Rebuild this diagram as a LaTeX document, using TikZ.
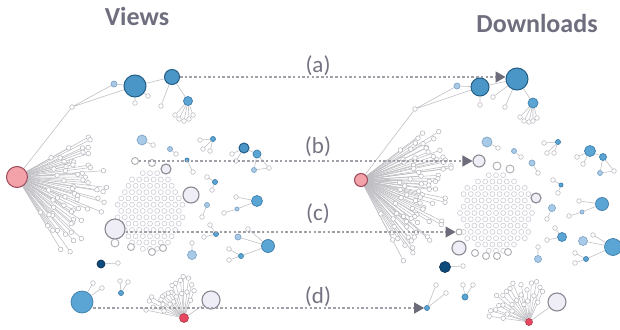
\documentclass[tikz,border=0pt]{standalone}
\usepackage{fontspec}
\setmainfont{Carlito}
\usetikzlibrary{arrows.meta,calc}
\pgfdeclarelayer{background}
\pgfdeclarelayer{edges}
\pgfsetlayers{background,edges,main}

\definecolor{titlegray}{HTML}{6E6E7E}
\definecolor{labelgray}{HTML}{737382}
\definecolor{edgegray}{HTML}{BEBEC3}
\definecolor{dotline}{HTML}{B2B2BA}
\definecolor{ringline}{HTML}{CFCFD9}
\definecolor{bigring}{HTML}{8A8A93}
\definecolor{palefill}{HTML}{EFEEF7}
\definecolor{hubpink}{HTML}{F4A2AA}
\definecolor{hubpinkline}{HTML}{9A4858}
\definecolor{hubred}{HTML}{E5485F}
\definecolor{hubredline}{HTML}{B3364A}
\definecolor{bluefill}{HTML}{4A97C7}
\definecolor{blueline}{HTML}{245E86}
\definecolor{midblue}{HTML}{5BA5D5}
\definecolor{midblueline}{HTML}{3D7EAA}
\definecolor{lightblue}{HTML}{A9CAE7}
\definecolor{lightblueline}{HTML}{7FA6C8}
\definecolor{navyfill}{HTML}{0E4A7A}
\definecolor{navyline}{HTML}{0A3358}
\definecolor{dashgray}{HTML}{A0A0A8}
\definecolor{tipgray}{HTML}{6C6C7A}

\tikzset{
  dot/.style={circle,inner sep=0pt,minimum size=4.6pt,draw=dotline,fill=white,line width=0.5pt},
  ring/.style={circle,inner sep=0pt,minimum size=5pt,draw=ringline,fill=white,line width=0.65pt},
  grayring/.style={circle,inner sep=0pt,minimum size=#1,draw=bigring!70,fill=white,line width=0.9pt},
  pale/.style={circle,inner sep=0pt,minimum size=#1,draw=bigring,fill=palefill,line width=1.1pt},
  bluenode/.style={circle,inner sep=0pt,minimum size=#1,draw=blueline,fill=bluefill,line width=1pt},
  midnode/.style={circle,inner sep=0pt,minimum size=#1,draw=midblueline,fill=midblue,line width=0.7pt},
  lightnode/.style={circle,inner sep=0pt,minimum size=#1,draw=lightblueline,fill=lightblue,line width=0.7pt},
  navynode/.style={circle,inner sep=0pt,minimum size=#1,draw=navyline,fill=navyfill,line width=0.7pt},
  pinkhub/.style={circle,inner sep=0pt,minimum size=#1,draw=hubpinkline,fill=hubpink,line width=1pt},
  redhub/.style={circle,inner sep=0pt,minimum size=#1,draw=hubredline,fill=hubred,line width=0.6pt},
  link/.style={draw=edgegray,line width=0.55pt},
  dashlink/.style={draw=dashgray,line width=1.3pt,dash pattern=on 2.5pt off 2.2pt,
    -{Triangle[length=10pt,width=11pt,color=tipgray]}},
  title/.style={inner sep=0pt,text=titlegray,font=\fontsize{26}{28}\selectfont\bfseries},
  caselabel/.style={inner sep=0pt,text=labelgray,font=\fontsize{23}{25}\selectfont}
}

\begin{document}
\begin{tikzpicture}[x=1pt,y=-1pt]
\useasboundingbox (0,0) rectangle (620,329);
\begin{pgfonlayer}{background}
  \fill[white] (0,0) rectangle (620,329);
\end{pgfonlayer}

% ---------- titles and case labels ----------
\node[title] (views) at (137,16) {Views};
\node[title] (downloads) at (537,23) {Downloads};
\node[caselabel] (la) at (318,66) {(a)};
\node[caselabel] (lbl) at (318,147) {(b)};
\node[caselabel] (lc) at (318,214) {(c)};
\node[caselabel] (ld) at (318,297) {(d)};

% =================== VIEWS ===================
\node[pinkhub=21pt] (R1) at (17,177) {};
% top component
\node[dot] (a1) at (72,107) {};
\node[lightnode=6pt] (a2) at (114,84) {};
\node[bluenode=22pt] (B1) at (135,86) {};
\node[dot] (a3) at (135,103) {};
\node[dot] (a4) at (148,96) {};
\node[bluenode=15pt] (B2) at (172,77) {};
\node[dot] (a5) at (161,106) {};
\node[midnode=9pt] (B3) at (188,101) {};
\node[dot] (a6) at (175,115) {};
\node[dot] (a7) at (179,119) {};
\node[dot] (a8) at (184,121) {};
\node[dot] (a9) at (189,119) {};
\node[dot] (a10) at (193,115) {};

% fan of the pink hub
\pgfmathsetseed{41}
\foreach \k in {0,...,47} {
  \pgfmathsetmacro\ang{30-\k*90/47+1.2*rand}
  \pgfmathsetmacro\len{50+42*rnd}
  \node[dot] (lf\k) at ($(R1)+(\ang:\len pt)$) {};
  \pgfmathtruncatemacro\sel{mod(\k,3)}
  \ifnum\sel=0 \node[dot] (lm\k) at ($(R1)!0.66!(lf\k)$) {}; \fi
  \begin{pgfonlayer}{edges}\draw[link] (R1) -- (lf\k);\end{pgfonlayer}
}

% hexagonal cluster of isolated nodes
\foreach \r in {-7,...,7} {
  \foreach \c in {-6,...,6} {
    \pgfmathsetmacro\px{\c*7.2+3.6*mod(abs(\r),2)}
    \pgfmathsetmacro\py{\r*6.3}
    \pgfmathtruncatemacro\inside{((\px/34)^2+(\py/40)^2)<1}
    \ifnum\inside=1 \node[ring] (lh\r x\c) at (150+\px,211+\py) {}; \fi
  }
}
\node[grayring=7pt] (lb1) at (135,161) {};
\node[grayring=7pt] (lb2) at (152,163) {};
\node[pale=10pt] (lb3) at (166,169) {};
\node[pale=16pt] (W1) at (191,195) {};
\node[pale=20pt] (W2) at (115,229) {};
\node[grayring=8pt] (lr1) at (115,243) {};
\node[grayring=7pt] (lr2) at (131,247) {};
\node[grayring=7pt] (lr3) at (152,252) {};
\node[grayring=7pt] (lr4) at (163,248) {};
\node[lightnode=10pt] (lb4) at (142,140) {};
\node[dot] (lb5) at (153,145) {};

% small components
\node[lightnode=5pt] (s1) at (170,149) {};
\node[dot] (s1a) at (176,154) {};
\node[midnode=5pt] (s2) at (213,139) {};
\node[dot] (s2a) at (200,140) {};
\node[dot] (s2b) at (203,149) {};
\node[dot] (s2c) at (210,151) {};
\node[bluenode=10pt] (s3) at (244,148) {};
\node[midnode=8pt] (s3a) at (257,154) {};
\node[lightnode=5pt] (s3b) at (254,170) {};
\node[dot] (s3c) at (269,168) {};
\node[dot] (s3d) at (232,154) {};
\node[dot] (s3e) at (236,161) {};
\node[midnode=4pt] (s4) at (187,160) {};
\node[dot] (s4a) at (193,172) {};
\node[midnode=5pt] (s5) at (215,182) {};
\node[dot] (s5a) at (207,177) {};
\node[dot] (s5b) at (212,190) {};
\node[midnode=11pt] (s6) at (257,201) {};
\node[lightnode=4pt] (s6a) at (237,209) {};
\node[dot] (s6b) at (236,197) {};
\node[dot] (s6c) at (224,213) {};
\node[lightnode=5pt] (s7) at (207,205) {};
\node[dot] (s7a) at (202,217) {};
\node[midnode=5pt] (s8) at (216,234) {};
\node[dot] (s8a) at (210,225) {};
\node[dot] (s8b) at (204,237) {};
\node[midnode=13pt] (s9) at (268,246) {};
\node[lightnode=6pt] (s9a) at (238,237) {};
\node[dot] (s9b) at (248,229) {};
\node[midnode=5pt] (s9c) at (241,256) {};
\node[dot] (s9d) at (229,249) {};
\node[dot] (s9e) at (229,260) {};
\node[lightnode=9pt] (s10) at (192,255) {};
\node[dot] (s10a) at (192,243) {};
\node[navynode=8pt] (s11) at (101,264) {};
\node[dot] (s11a) at (118,263) {};

% bottom row
\node[midnode=22pt] (D1) at (82,302) {};
\node[dot] (d1a) at (93,283) {};
\node[dot] (d1b) at (102,288) {};
\node[midnode=5pt] (s12) at (121,293) {};
\node[dot] (s12a) at (120,281) {};
\node[dot] (s12b) at (128,282) {};
\node[pale=18pt] (W3) at (211,300) {};
\node[redhub=9pt] (R2) at (184,318) {};
\pgfmathsetseed{7}
\foreach \k in {0,...,15} {
  \pgfmathsetmacro\ang{70+\k*98/15+2*rand}
  \pgfmathsetmacro\len{27+15*rnd}
  \node[dot] (bf\k) at ($(R2)+(\ang:\len pt)$) {};
  \pgfmathtruncatemacro\sel{mod(\k,2)}
  \ifnum\sel=0 \node[dot] (bm\k) at ($(R2)!0.65!(bf\k)$) {}; \fi
  \begin{pgfonlayer}{edges}\draw[link] (R2) -- (bf\k);\end{pgfonlayer}
}

% ================= DOWNLOADS =================
\node[pinkhub=13pt] (R1r) at (361,180) {};
\node[dot] (c1) at (415,109) {};
\node[lightnode=6pt] (c2) at (457,86) {};
\node[bluenode=18pt] (B2r) at (480,87) {};
\node[bluenode=22pt] (B1r) at (517,79) {};
\node[midnode=10pt] (B3r) at (533,103) {};
\node[dot] (c3) at (493,97) {};
\node[dot] (c4) at (480,105) {};
\node[dot] (c5) at (505,107) {};
\node[dot] (c6) at (520,117) {};
\node[dot] (c7) at (524,121) {};
\node[dot] (c8) at (529,122) {};
\node[dot] (c9) at (533,121) {};
\node[dot] (c10) at (537,118) {};

\pgfmathsetseed{19}
\foreach \k in {0,...,59} {
  \pgfmathsetmacro\ang{37-\k*100/59+1.2*rand}
  \pgfmathsetmacro\len{58+34*rnd}
  \node[dot] (rf\k) at ($(R1r)+(\ang:\len pt)$) {};
  \pgfmathtruncatemacro\sel{mod(\k,3)}
  \ifnum\sel=0 \node[dot] (rm\k) at ($(R1r)!0.64!(rf\k)$) {}; \fi
  \begin{pgfonlayer}{edges}\draw[link] (R1r) -- (rf\k);\end{pgfonlayer}
}

\foreach \r in {-7,...,7} {
  \foreach \c in {-6,...,6} {
    \pgfmathsetmacro\px{\c*7.2+3.6*mod(abs(\r),2)}
    \pgfmathsetmacro\py{\r*6.3}
    \pgfmathtruncatemacro\inside{((\px/37)^2+(\py/41)^2)<1}
    \ifnum\inside=1 \node[ring] (rh\r x\c) at (496+\px,213+\py) {}; \fi
  }
}
\node[pale=12pt] (rb1) at (479,161) {};
\node[grayring=8pt] (rb2) at (497,166) {};
\node[grayring=8pt] (rb3) at (510,169) {};
\node[pale=10pt] (rb4) at (536,198) {};
\node[grayring=6pt] (rc1) at (459,232) {};
\node[pale=14pt] (rc2) at (459,248) {};
\node[grayring=7pt] (rr1) at (475,253) {};
\node[grayring=7pt] (rr2) at (486,256) {};
\node[grayring=7pt] (rr3) at (497,256) {};
\node[grayring=7pt] (rr4) at (508,252) {};
\node[lightnode=10pt] (rl) at (487,142) {};
\node[dot] (rla) at (498,148) {};
\node[navynode=11pt] (rn) at (445,267) {};
\node[dot] (rna) at (463,266) {};

\node[lightnode=5pt] (t1) at (514,151) {};
\node[dot] (t1a) at (521,157) {};
\node[midnode=5pt] (t2) at (558,142) {};
\node[dot] (t2a) at (544,143) {};
\node[dot] (t2b) at (547,153) {};
\node[dot] (t2c) at (554,153) {};
\node[midnode=11pt] (t3) at (590,151) {};
\node[midnode=7pt] (t3a) at (603,157) {};
\node[lightnode=5pt] (t3b) at (600,173) {};
\node[dot] (t3c) at (614,171) {};
\node[dot] (t3d) at (577,157) {};
\node[dot] (t3e) at (583,164) {};
\node[lightnode=6pt] (t4) at (532,163) {};
\node[dot] (t4a) at (538,173) {};
\node[midnode=4pt] (t5) at (561,185) {};
\node[dot] (t5a) at (553,180) {};
\node[dot] (t5b) at (558,193) {};
\node[midnode=13pt] (t6) at (602,204) {};
\node[lightnode=4pt] (t6a) at (582,212) {};
\node[dot] (t6b) at (579,201) {};
\node[dot] (t6c) at (569,216) {};
\node[lightnode=7pt] (t7) at (552,208) {};
\node[dot] (t7a) at (547,219) {};
\node[midnode=9pt] (t8) at (562,237) {};
\node[dot] (t8a) at (555,228) {};
\node[dot] (t8b) at (547,240) {};
\node[midnode=17pt] (t9) at (613,247) {};
\node[lightnode=9pt] (t9a) at (583,241) {};
\node[dot] (t9b) at (593,235) {};
\node[midnode=5pt] (t9c) at (586,259) {};
\node[dot] (t9d) at (575,253) {};
\node[dot] (t9e) at (575,263) {};
\node[lightnode=7pt] (t10) at (538,259) {};
\node[dot] (t10a) at (538,247) {};

% bottom row
\node[midnode=5pt] (e1) at (427,308) {};
\node[dot] (e1a) at (436,285) {};
\node[dot] (e1b) at (446,293) {};
\node[midnode=6pt] (e2) at (465,297) {};
\node[dot] (e2a) at (463,285) {};
\node[dot] (e2b) at (473,285) {};
\node[pale=18pt] (W4) at (557,302) {};
\node[redhub=7pt] (R3) at (529,322) {};
\pgfmathsetseed{23}
\foreach \k in {0,...,16} {
  \pgfmathsetmacro\ang{68+\k*104/16+2*rand}
  \pgfmathsetmacro\len{28+14*rnd}
  \node[dot] (cf\k) at ($(R3)+(\ang:\len pt)$) {};
  \pgfmathtruncatemacro\sel{mod(\k,2)}
  \ifnum\sel=0 \node[dot] (cm\k) at ($(R3)!0.65!(cf\k)$) {}; \fi
  \begin{pgfonlayer}{edges}\draw[link] (R3) -- (cf\k);\end{pgfonlayer}
}

% ---------- connectors ----------
\begin{pgfonlayer}{edges}
  \draw[link] (R1) -- (a1) (a1) -- (a2) (a1) -- (B1) (a2) -- (B1)
    (B1) -- (a3) (B1) -- (a4) (B1) -- (B2) (B2) -- (a5) (B2) -- (B3)
    (B3) -- (a6) (B3) -- (a7) (B3) -- (a8) (B3) -- (a9) (B3) -- (a10)
    (lb4) -- (lb5) (s1) -- (s1a) (s2) -- (s2a) (s2) -- (s2b) (s2) -- (s2c)
    (s3) -- (s3a) (s3) -- (s3d) (s3) -- (s3e) (s3a) -- (s3b) (s3a) -- (s3c) (s3b) -- (s3c)
    (s4) -- (s4a) (s5) -- (s5a) (s5) -- (s5b)
    (s6) -- (s6a) (s6) -- (s6b) (s6a) -- (s6c) (s7) -- (s7a)
    (s8) -- (s8a) (s8) -- (s8b)
    (s9) -- (s9a) (s9) -- (s9b) (s9) -- (s9c) (s9c) -- (s9d) (s9c) -- (s9e)
    (s10) -- (s10a) (s11) -- (s11a)
    (D1) -- (d1a) (D1) -- (d1b) (s12) -- (s12a) (s12) -- (s12b) (R2) -- (W3);
  \draw[link] (R1r) -- (c1) (c1) -- (c2) (c1) -- (B2r) (c2) -- (B2r)
    (B2r) -- (B1r) (B2r) -- (c4) (B1r) -- (c3) (B1r) -- (c5) (B1r) -- (B3r)
    (B3r) -- (c6) (B3r) -- (c7) (B3r) -- (c8) (B3r) -- (c9) (B3r) -- (c10)
    (rl) -- (rla) (rn) -- (rna) (t1) -- (t1a) (t2) -- (t2a) (t2) -- (t2b) (t2) -- (t2c)
    (t3) -- (t3a) (t3) -- (t3d) (t3) -- (t3e) (t3a) -- (t3b) (t3a) -- (t3c) (t3b) -- (t3c)
    (t4) -- (t4a) (t5) -- (t5a) (t5) -- (t5b)
    (t6) -- (t6a) (t6) -- (t6b) (t6a) -- (t6c) (t7) -- (t7a)
    (t8) -- (t8a) (t8) -- (t8b)
    (t9) -- (t9a) (t9) -- (t9b) (t9) -- (t9c) (t9c) -- (t9d) (t9c) -- (t9e)
    (t10) -- (t10a)
    (e1) -- (e1a) (e1) -- (e1b) (e2) -- (e2a) (e2) -- (e2b) (R3) -- (W4);
\end{pgfonlayer}

% ---------- dashed correspondences ----------
\draw[dashlink] (B2.east) -- (B2.east -| B1r.west);
\draw[dashlink] (lb1.east) -- (rb1.west);
\draw[dashlink] (W2.east |- rc1.west) -- (rc1.west);
\draw[dashlink] (D1.east |- e1.west) -- (e1.west);
\end{tikzpicture}
\end{document}
